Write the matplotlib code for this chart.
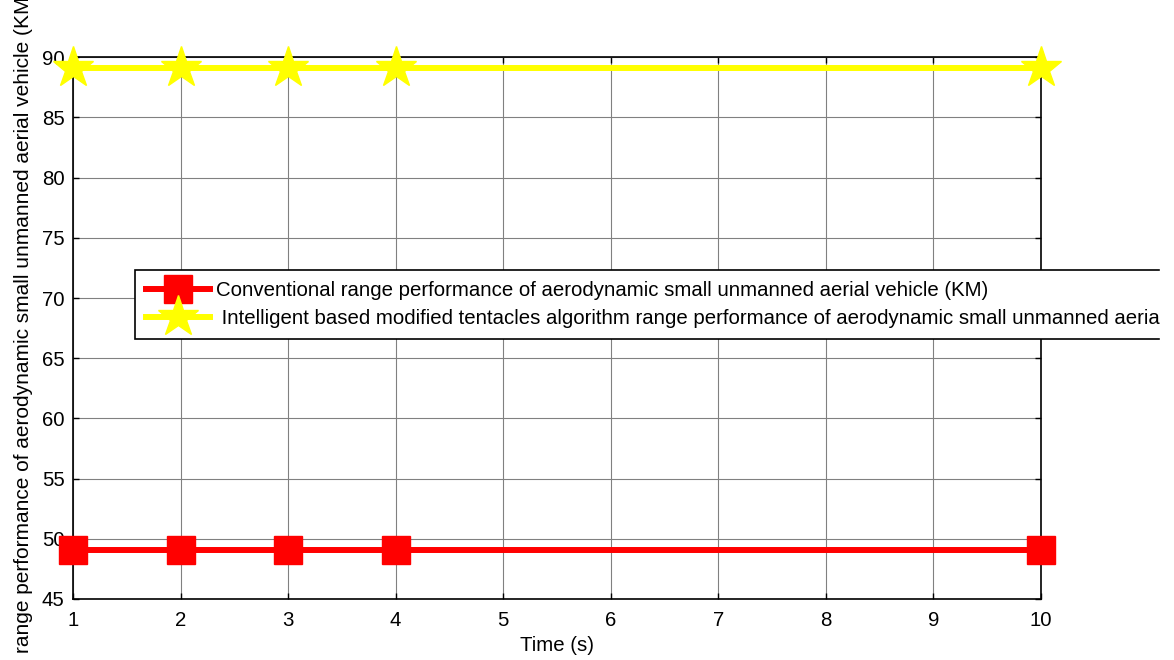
import matplotlib.pyplot as plt
from matplotlib.patches import Rectangle

# data
time_s = [1, 2, 3, 4, 10]
conventional_km = [49.07, 49.07, 49.07, 49.07, 49.07]
intelligent_km = [89.1, 89.1, 89.1, 89.1, 89.1]

x_ticks = list(range(1, 11))
y_ticks = list(range(45, 91, 5))

label_conv = "Conventional range performance of aerodynamic small unmanned aerial vehicle (KM)"
label_int = " Intelligent based modified tentacles algorithm range performance of aerodynamic small unmanned aerial vehicle (KM)"

plt.rcParams['font.family'] = ['Liberation Sans', 'DejaVu Sans']
fs = 14.7

fig = plt.figure(figsize=(11.74, 6.6), dpi=100)
ax = fig.add_axes([73 / 1174, 61 / 660, 968 / 1174, 541.7 / 660])

ax.plot(time_s, conventional_km, color='red', lw=4.3, marker='s', ms=20,
        mfc='red', mec='red', label=label_conv, clip_on=False, zorder=3)
ax.plot(time_s, intelligent_km, color='yellow', lw=4.3, marker='*', ms=31,
        mfc='yellow', mec='yellow', label=label_int, clip_on=False, zorder=3)

ax.set_xlim(1, 10)
ax.set_ylim(45, 90)
ax.set_xticks(x_ticks)
ax.set_yticks(y_ticks)
ax.grid(True, color='0.5', lw=0.8)
ax.set_axisbelow(True)
ax.tick_params(direction='in', length=4, width=1, top=True, right=True,
               labelsize=fs)
ax.tick_params(axis='x', pad=9)
ax.tick_params(axis='y', pad=6)
for sp in ax.spines.values():
    sp.set_linewidth(1.2)
    sp.set_color('black')

ax.set_xlabel("Time (s)", fontsize=fs, labelpad=4)
ax.set_ylabel("range performance of aerodynamic small unmanned aerial vehicle (KM)", fontsize=15.0)
ax.yaxis.set_label_coords(-0.041, 0.513)

leg = fig.legend(loc='upper left', bbox_to_anchor=(135 / 1174, 1 - 270 / 660),
                 borderaxespad=0, fancybox=False, framealpha=1, edgecolor='black',
                 fontsize=fs, handlelength=3.14, handletextpad=0.3, borderpad=0.55,
                 labelspacing=0.42)
leg.get_frame().set_linewidth(1.2)

# the reference is cut off on the right of the legend
fig.add_artist(Rectangle((1160 / 1174, 0), 1, 1, transform=fig.transFigure,
                         color='white', zorder=20))

fig.savefig('out.png', dpi=100)
